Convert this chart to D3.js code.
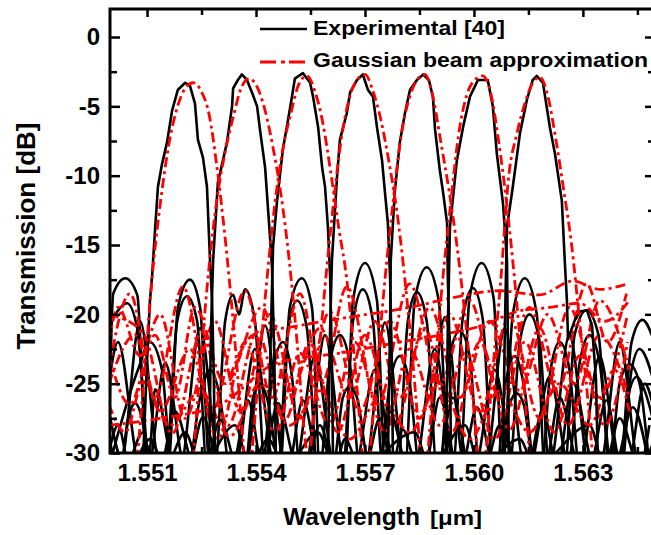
<!DOCTYPE html>
<html>
<head>
<meta charset="utf-8">
<script src="https://cdn.jsdelivr.net/npm/d3@7/dist/d3.min.js"></script>
<style>
body { margin: 0; background: #fff; }
svg { display: block; }
</style>
</head>
<body>
<div id="chart"></div>
<script>
// Channel transmission: measured spectra vs Gaussian beam approximation

var xTicks = [1.551, 1.554, 1.557, 1.560, 1.563]
var xMinorTicks = [1.5525, 1.5555, 1.5585, 1.5615, 1.5645]
var yTicks = [0, -5, -10, -15, -20, -25, -30]
var yMinorTicks = [-2.5, -7.5, -12.5, -17.5, -22.5, -27.5]
var legendLabels = ["Experimental [40]", "Gaussian beam approximation"]

// measured main lobes, one per channel  [wavelength um, dB]
var expPeaks = [
    [[1.55089,-30.5],[1.55100,-23.3],[1.55108,-19.0],[1.55114,-17.2],[1.55122,-13.9],[1.55130,-10.8],[1.55141,-9.2],[1.55155,-7.6],[1.55169,-5.3],[1.55185,-3.8],[1.55205,-3.3],[1.55218,-3.5],[1.55232,-4.8],[1.55240,-7.4],[1.55254,-8.7],[1.55265,-10.8],[1.55273,-15.9],[1.55279,-19.0],[1.55284,-24.7],[1.55287,-30.5]],
    [[1.55271,-30.5],[1.55276,-21.1],[1.55282,-16.1],[1.55295,-10.5],[1.55320,-7.6],[1.55334,-5.0],[1.55337,-3.7],[1.55350,-3.1],[1.55361,-2.7],[1.55375,-3.1],[1.55389,-4.0],[1.55403,-5.0],[1.55411,-6.7],[1.55425,-9.4],[1.55439,-14.6],[1.55444,-16.6],[1.55450,-22.6],[1.55455,-30.5]],
    [[1.55433,-30.5],[1.55441,-21.1],[1.55447,-15.1],[1.55458,-11.8],[1.55474,-8.1],[1.55488,-6.0],[1.55499,-4.3],[1.55507,-3.0],[1.55529,-2.6],[1.55549,-3.3],[1.55557,-4.3],[1.55571,-6.5],[1.55582,-9.4],[1.55590,-10.8],[1.55598,-13.7],[1.55604,-17.3],[1.55609,-23.3],[1.55612,-30.5]],
    [[1.55598,-30.5],[1.55604,-21.1],[1.55609,-16.1],[1.55623,-10.1],[1.55631,-7.4],[1.55650,-5.5],[1.55659,-4.0],[1.55678,-3.1],[1.55694,-2.7],[1.55708,-3.8],[1.55722,-4.3],[1.55733,-6.5],[1.55747,-8.9],[1.55755,-11.2],[1.55763,-13.4],[1.55769,-17.3],[1.55774,-23.3],[1.55777,-30.5]],
    [[1.55763,-30.5],[1.55769,-21.1],[1.55771,-16.1],[1.55782,-11.2],[1.55796,-7.6],[1.55810,-5.5],[1.55824,-3.8],[1.55843,-3.1],[1.55860,-2.7],[1.55876,-3.1],[1.55887,-4.3],[1.55893,-6.7],[1.55906,-9.6],[1.55915,-11.2],[1.55926,-13.4],[1.55928,-17.3],[1.55934,-23.3],[1.55937,-30.5]],
    [[1.55923,-30.5],[1.55928,-21.1],[1.55934,-13.7],[1.55953,-8.9],[1.55970,-6.5],[1.55989,-4.3],[1.56011,-3.1],[1.56038,-3.1],[1.56052,-5.0],[1.56063,-8.4],[1.56071,-10.1],[1.56080,-12.0],[1.56091,-16.1],[1.56093,-21.1],[1.56096,-30.5]],
    [[1.56080,-30.5],[1.56085,-21.1],[1.56091,-13.7],[1.56107,-10.8],[1.56127,-6.9],[1.56146,-4.5],[1.56162,-3.1],[1.56173,-2.8],[1.56190,-3.3],[1.56209,-6.5],[1.56223,-8.4],[1.56242,-11.8],[1.56250,-16.1],[1.56256,-19.0],[1.56259,-21.8],[1.56278,-20.4],[1.56292,-19.8],[1.56311,-19.7],[1.56325,-20.8],[1.56336,-24.7],[1.56341,-30.5]]
]

// measured crosstalk lobes
var expLobes = [
    [[1.54995,-29],[1.55007,-18.5],[1.55040,-17.4],[1.55073,-18.6],[1.55100,-31],[1.55158,-31],[1.55185,-19.5],[1.55218,-17.5],[1.55246,-19.5],[1.55273,-31],[1.55466,-31],[1.55493,-19.5],[1.55526,-17.4],[1.55554,-19.5],[1.55576,-31],[1.55645,-31],[1.55667,-19],[1.55700,-16.3],[1.55733,-19],[1.55755,-31],[1.55810,-31],[1.55837,-19],[1.55870,-16.6],[1.55903,-19],[1.55933,-31],[1.55961,-31],[1.55988,-18.8],[1.56021,-16.3],[1.56054,-18.8],[1.56079,-31],[1.56107,-20],[1.56140,-17.4],[1.56173,-20],[1.56195,-31],[1.56250,-31],[1.56277,-21.5],[1.56310,-19.7],[1.56343,-21.5],[1.56373,-31],[1.56401,-31],[1.56434,-22],[1.56464,-20.4],[1.56497,-22]],
    [[1.54995,-21],[1.55018,-19.8],[1.55045,-19.2],[1.55073,-21],[1.55108,-31],[1.55150,-31],[1.55183,-20.5],[1.55210,-18.7],[1.55238,-20.5],[1.55265,-31],[1.55287,-31],[1.55315,-20.5],[1.55337,-18.6],[1.55353,-20],[1.55370,-18.2],[1.55397,-20.5],[1.55425,-31],[1.55460,-31],[1.55488,-21],[1.55513,-19],[1.55540,-21],[1.55570,-31],[1.55639,-31],[1.55667,-20.5],[1.55694,-18.2],[1.55722,-20.5],[1.55749,-31],[1.55790,-31],[1.55818,-20.5],[1.55843,-18.4],[1.55870,-20.5],[1.55898,-31],[1.55942,-31],[1.55969,-20.3],[1.55997,-18.1],[1.56024,-20.3],[1.56052,-31],[1.56098,-31],[1.56126,-22],[1.56153,-20],[1.56181,-22],[1.56208,-31],[1.56258,-31],[1.56291,-23.5],[1.56318,-21.5],[1.56346,-23.5],[1.56379,-31],[1.56406,-31],[1.56434,-24],[1.56456,-22.5],[1.56497,-25]],
    [[1.54995,-31],[1.55075,-24],[1.55108,-22],[1.55141,-24],[1.55169,-31],[1.55213,-31],[1.55246,-26],[1.55273,-24],[1.55301,-26],[1.55328,-31],[1.55416,-31],[1.55447,-24],[1.55474,-22],[1.55499,-24.5],[1.55521,-31],[1.55576,-31],[1.55603,-23.5],[1.55631,-21.5],[1.55658,-23.5],[1.55686,-31],[1.55741,-31],[1.55768,-25],[1.55796,-23],[1.55823,-25],[1.55851,-31],[1.55906,-31],[1.55933,-23],[1.55961,-21.2],[1.55988,-23],[1.56016,-31],[1.56063,-31],[1.56087,-25],[1.56112,-23],[1.56140,-25.5],[1.56167,-31],[1.56186,-31],[1.56211,-24],[1.56236,-22],[1.56263,-24],[1.56291,-31],[1.56373,-31],[1.56401,-25],[1.56428,-23.6],[1.56456,-25],[1.56483,-31]],
    [[1.54995,-29],[1.55026,-31],[1.55048,-27.5],[1.55067,-26.4],[1.55086,-27.5],[1.55108,-31],[1.55136,-31],[1.55177,-27],[1.55232,-31],[1.55260,-31],[1.55301,-27.6],[1.55350,-31],[1.55370,-31],[1.55392,-26],[1.55411,-25],[1.55430,-26],[1.55466,-31],[1.55488,-31],[1.55529,-26.2],[1.55576,-31],[1.55612,-31],[1.55639,-26],[1.55658,-25.2],[1.55678,-26],[1.55713,-31],[1.55735,-31],[1.55768,-27],[1.55818,-31],[1.55865,-31],[1.55906,-26],[1.55955,-31],[1.55966,-31],[1.56008,-26.7],[1.56057,-31],[1.56076,-31],[1.56098,-26.5],[1.56118,-25.7],[1.56137,-26.5],[1.56167,-31],[1.56195,-31],[1.56236,-26],[1.56291,-31],[1.56318,-31],[1.56365,-26.2],[1.56406,-31],[1.56428,-25.5],[1.56448,-24.5],[1.56470,-25.5],[1.56497,-28]],
    [[1.54995,-27],[1.55040,-31],[1.55089,-28.5],[1.55106,-30],[1.55122,-25.4],[1.55177,-31],[1.55213,-31],[1.55254,-27.4],[1.55301,-31],[1.55334,-31],[1.55378,-26.2],[1.55419,-31],[1.55460,-26.4],[1.55515,-31],[1.55535,-31],[1.55576,-28],[1.55617,-31],[1.55700,-31],[1.55741,-27.5],[1.55774,-31],[1.55804,-28.3],[1.55845,-31],[1.55900,-31],[1.55942,-26],[1.55988,-31],[1.56030,-31],[1.56071,-28],[1.56126,-31],[1.56148,-31],[1.56189,-26.9],[1.56230,-31],[1.56272,-24.9],[1.56332,-31],[1.56387,-31],[1.56437,-26.7],[1.56483,-31]],
    [[1.54995,-25],[1.55020,-22],[1.55081,-31],[1.55103,-31],[1.55150,-23.5],[1.55205,-31],[1.55342,-31],[1.55397,-22.5],[1.55452,-31],[1.55507,-31],[1.55562,-23],[1.55617,-31],[1.55672,-31],[1.55727,-24],[1.55782,-31],[1.55837,-31],[1.55892,-22.5],[1.55947,-31],[1.56002,-31],[1.56057,-24],[1.56112,-31],[1.56153,-31],[1.56208,-24.5],[1.56263,-31],[1.56291,-31],[1.56346,-23],[1.56401,-31],[1.56423,-31],[1.56470,-25],[1.56497,-27]],
    [[1.54995,-31],[1.55026,-31],[1.55081,-20.5],[1.55136,-31],[1.55191,-31],[1.55246,-21],[1.55301,-31],[1.55370,-31],[1.55425,-20.8],[1.55480,-31],[1.55535,-31],[1.55590,-21.5],[1.55645,-31],[1.55700,-31],[1.55755,-20.6],[1.55810,-31],[1.55865,-31],[1.55920,-20.2],[1.55975,-31],[1.56030,-31],[1.56085,-21],[1.56140,-31],[1.56208,-31],[1.56263,-21.5],[1.56318,-31],[1.56346,-31],[1.56401,-22],[1.56456,-31],[1.56497,-29]],
    [[1.54995,-30],[1.55020,-28],[1.55053,-31],[1.55108,-29],[1.55150,-31],[1.55205,-28.5],[1.55246,-31],[1.55342,-28],[1.55383,-31],[1.55433,-29],[1.55480,-31],[1.55570,-28.5],[1.55617,-31],[1.55645,-29],[1.55686,-31],[1.55837,-28.5],[1.55878,-31],[1.55975,-28],[1.56016,-31],[1.56126,-29],[1.56167,-31],[1.56318,-28],[1.56360,-31],[1.56401,-27.5],[1.56456,-31],[1.56483,-28]]
]

// Gaussian beam model main lobes
var gaussPeaks = [
    [[1.55073,-30.5],[1.55095,-23.5],[1.55117,-16.5],[1.55139,-11.5],[1.55161,-7.6],[1.55183,-5.1],[1.55205,-3.7],[1.55227,-3.3],[1.55249,-3.9],[1.55271,-5.6],[1.55293,-9.5],[1.55315,-14.5],[1.55337,-20.5],[1.55359,-27.5],[1.55370,-31]],
    [[1.55227,-30.5],[1.55249,-23],[1.55271,-16.5],[1.55293,-11.6],[1.55315,-8.3],[1.55337,-5.8],[1.55359,-3.7],[1.55381,-3.0],[1.55403,-3.6],[1.55425,-5.3],[1.55447,-8.0],[1.55469,-11.4],[1.55491,-16],[1.55513,-22],[1.55535,-29],[1.55546,-31]],
    [[1.55386,-31],[1.55408,-24],[1.55430,-17.5],[1.55452,-12],[1.55474,-8.1],[1.55496,-5.5],[1.55518,-3.4],[1.55540,-2.8],[1.55562,-3.9],[1.55584,-6.2],[1.55606,-9.8],[1.55628,-13.8],[1.55650,-17.5],[1.55672,-23.5],[1.55694,-30.5]],
    [[1.55546,-31],[1.55568,-24.5],[1.55590,-18],[1.55612,-12.3],[1.55634,-7.5],[1.55656,-4.5],[1.55678,-3.1],[1.55700,-2.7],[1.55722,-3.9],[1.55744,-6.0],[1.55766,-9.0],[1.55788,-12.6],[1.55810,-17.5],[1.55832,-23.5],[1.55854,-30.5]],
    [[1.55711,-31],[1.55733,-24],[1.55755,-17.5],[1.55777,-12],[1.55799,-7.2],[1.55821,-4.5],[1.55843,-3.1],[1.55865,-2.7],[1.55887,-4.3],[1.55909,-7.6],[1.55931,-11],[1.55953,-15],[1.55975,-20],[1.55997,-26],[1.56013,-31]],
    [[1.55870,-31],[1.55892,-24],[1.55914,-17.5],[1.55936,-12],[1.55958,-7],[1.55980,-4.2],[1.56002,-3.1],[1.56024,-2.8],[1.56046,-4],[1.56068,-7.5],[1.56090,-12],[1.56112,-17.5],[1.56134,-24],[1.56156,-31]],
    [[1.56030,-31],[1.56052,-24],[1.56074,-17.5],[1.56096,-10],[1.56118,-7],[1.56140,-4.8],[1.56162,-3.3],[1.56181,-2.9],[1.56203,-4.2],[1.56225,-7.3],[1.56247,-11],[1.56269,-15],[1.56291,-20.5],[1.56313,-26],[1.56329,-31]]
]

// Gaussian beam model side lobes
var gaussLobes = [
    [[1.54995,-24],[1.55053,-18.5],[1.55122,-26],[1.55199,-18],[1.55279,-27],[1.55370,-18.3],[1.55444,-26],[1.55521,-18.5],[1.55581,-25],[1.55650,-18],[1.55735,-26.5],[1.55823,-17.8],[1.55906,-25],[1.55988,-19],[1.56071,-26],[1.56153,-19.5],[1.56230,-25.5],[1.56310,-17.8],[1.56368,-22],[1.56420,-18.5]],
    [[1.54995,-20],[1.55089,-21.3],[1.55169,-28.6],[1.55251,-21.3],[1.55323,-28],[1.55403,-21.3],[1.55480,-27.6],[1.55548,-22],[1.55625,-28.5],[1.55700,-21.5],[1.55782,-28],[1.55865,-21],[1.55939,-28.5],[1.56016,-22],[1.56098,-28.3],[1.56181,-21],[1.56258,-28],[1.56346,-21.5],[1.56428,-26]],
    [[1.54995,-26.5],[1.55040,-28.5],[1.55089,-24.9],[1.55163,-28],[1.55246,-25.5],[1.55328,-28.8],[1.55411,-25],[1.55493,-28],[1.55576,-25.5],[1.55658,-29],[1.55741,-26],[1.55823,-28.5],[1.55906,-25],[1.55988,-29],[1.56071,-25.5],[1.56153,-28.5],[1.56236,-25],[1.56318,-28],[1.56387,-24],[1.56428,-27]],
    [[1.54995,-22],[1.55020,-19.5],[1.55081,-23],[1.55136,-20],[1.55205,-27.5],[1.55287,-20.5],[1.55356,-27],[1.55438,-20],[1.55521,-27.5],[1.55603,-19.8],[1.55686,-27],[1.55768,-20.5],[1.55851,-27.5],[1.55933,-20],[1.56016,-27],[1.56098,-20.2],[1.56181,-27.5],[1.56263,-19.5],[1.56346,-26],[1.56423,-20]],
    [[1.54995,-25],[1.55067,-21.5],[1.55136,-27],[1.55218,-22.5],[1.55295,-29],[1.55370,-22],[1.55452,-28.5],[1.55521,-22.8],[1.55603,-28],[1.55672,-22],[1.55755,-28.5],[1.55823,-22.5],[1.55906,-28],[1.55975,-22.8],[1.56057,-29],[1.56140,-22],[1.56222,-28.5],[1.56291,-23],[1.56360,-28],[1.56423,-22]],
    [[1.54995,-23],[1.55053,-26.5],[1.55122,-21.5],[1.55177,-26],[1.55232,-19.5],[1.55315,-25],[1.55416,-19.5],[1.55493,-25.5],[1.55576,-21],[1.55658,-26],[1.55727,-20.5],[1.55796,-26],[1.55878,-19.5],[1.55961,-26],[1.56043,-20.5],[1.56126,-25.5],[1.56203,-20],[1.56277,-25],[1.56346,-19],[1.56428,-24]],
    [[1.55328,-24.5],[1.55392,-21.5],[1.55521,-20.8],[1.55658,-20.2],[1.55823,-19.5],[1.55942,-18.8],[1.56071,-18.3],[1.56181,-18.6],[1.56272,-17.6],[1.56346,-18.2],[1.56423,-17.8]],
    [[1.54995,-28],[1.55136,-27.5],[1.55301,-26.5],[1.55458,-23.5],[1.55631,-22.8],[1.55796,-22.0],[1.55925,-21.4],[1.56024,-20.8],[1.56118,-19.8],[1.56208,-19.5],[1.56291,-19.2],[1.56360,-20.5],[1.56428,-19]]
]

var width = 651, height = 535
var plot = { left: 110, right: 653, top: 9, bottom: 453 }
var font = "'Liberation Sans', Arial, sans-serif"

var x = d3.scaleLinear().domain([1.54998, 1.56493]).range([plot.left, plot.right])
var y = d3.scaleLinear().domain([-30, 2.02]).range([plot.bottom, plot.top])

var svg = d3.select("#chart").append("svg")
    .attr("width", width)
    .attr("height", height)
    .style("background", "#fff")

svg.append("clipPath").attr("id", "clip")
    .append("rect")
    .attr("x", plot.left).attr("y", plot.top)
    .attr("width", plot.right - plot.left).attr("height", plot.bottom - plot.top)

var smooth = d3.line().x(d => x(d[0])).y(d => y(d[1])).curve(d3.curveMonotoneX)
var straight = d3.line().x(d => x(d[0])).y(d => y(d[1]))

var curves = svg.append("g").attr("clip-path", "url(#clip)").attr("fill", "none")

function drawSet (data, line, color, width, dash) {
    curves.append("g").selectAll("path")
        .data(data)
        .enter()
        .append("path")
        .attr("d", line)
        .attr("stroke", color)
        .attr("stroke-width", width)
        .attr("stroke-linejoin", "round")
        .attr("stroke-dasharray", dash)
}

drawSet(expLobes, smooth, "#000", 2.6, null)
drawSet(gaussLobes, smooth, "#f00", 2.8, "10,4,3,4")
drawSet(expPeaks, straight, "#000", 2.6, null)
drawSet(gaussPeaks, smooth, "#f00", 2.8, "10,4,3,4")

// axes: ticks point inward on all four sides
function addAxis (axis, tx, ty) {
    var g = svg.append("g")
        .attr("transform", "translate(" + tx + "," + ty + ")")
        .call(axis)
    g.select(".domain").remove()
    g.selectAll("line").attr("stroke", "#000").attr("stroke-width", 2.5)
    g.selectAll("text")
        .attr("fill", "#000")
        .style("font-family", font)
        .style("font-weight", "bold")
        .style("font-size", "24px")
    return g
}

addAxis(d3.axisLeft(y).tickValues(yTicks).tickSize(-10).tickPadding(10).tickFormat(d => String(d)), plot.left, 0)
addAxis(d3.axisLeft(y).tickValues(yMinorTicks).tickSize(-7).tickFormat(""), plot.left, 0)
addAxis(d3.axisRight(y).tickValues(yTicks).tickSize(-8).tickFormat(""), plot.right, 0)
addAxis(d3.axisRight(y).tickValues(yMinorTicks).tickSize(-5).tickFormat(""), plot.right, 0)
addAxis(d3.axisBottom(x).tickValues(xTicks).tickSize(-8).tickPadding(11).tickFormat(d => d.toFixed(3)), 0, plot.bottom)
addAxis(d3.axisBottom(x).tickValues(xMinorTicks).tickSize(-6).tickFormat(""), 0, plot.bottom)
addAxis(d3.axisTop(x).tickValues(xTicks).tickSize(-8).tickFormat(""), 0, plot.top)
addAxis(d3.axisTop(x).tickValues(xMinorTicks).tickSize(-6).tickFormat(""), 0, plot.top)

svg.append("rect")
    .attr("x", plot.left).attr("y", plot.top)
    .attr("width", plot.right - plot.left).attr("height", plot.bottom - plot.top)
    .attr("fill", "none").attr("stroke", "#000").attr("stroke-width", 3)

// legend
var legend = svg.append("g")
legend.append("line").attr("x1", 260).attr("x2", 307).attr("y1", 29).attr("y2", 29)
    .attr("stroke", "#000").attr("stroke-width", 2.6)
legend.append("line").attr("x1", 260).attr("x2", 307).attr("y1", 62).attr("y2", 62)
    .attr("stroke", "#f00").attr("stroke-width", 2.8).attr("stroke-dasharray", "16,5,4,4")
legend.selectAll("text")
    .data(legendLabels)
    .enter()
    .append("text")
    .attr("x", 313)
    .attr("y", (d, i) => i == 0 ? 35 : 67)
    .attr("textLength", (d, i) => i == 0 ? 192 : 335)
    .attr("lengthAdjust", "spacingAndGlyphs")
    .style("font-family", font).style("font-weight", "bold").style("font-size", "20px")
    .text(d => d)

// axis titles
svg.append("text")
    .attr("transform", "translate(35,236) rotate(-90)")
    .attr("text-anchor", "middle")
    .attr("textLength", 227)
    .attr("lengthAdjust", "spacingAndGlyphs")
    .style("font-family", font).style("font-weight", "bold").style("font-size", "25px")
    .text("Transmission [dB]")

svg.append("text")
    .attr("x", 283).attr("y", 525)
    .attr("textLength", 137)
    .attr("lengthAdjust", "spacingAndGlyphs")
    .style("font-family", font).style("font-weight", "bold").style("font-size", "24px")
    .text("Wavelength")

svg.append("text")
    .attr("x", 430).attr("y", 525)
    .attr("textLength", 52)
    .attr("lengthAdjust", "spacingAndGlyphs")
    .style("font-family", font).style("font-weight", "bold").style("font-size", "20px")
    .text("[\u03bcm]")
</script>
</body>
</html>
